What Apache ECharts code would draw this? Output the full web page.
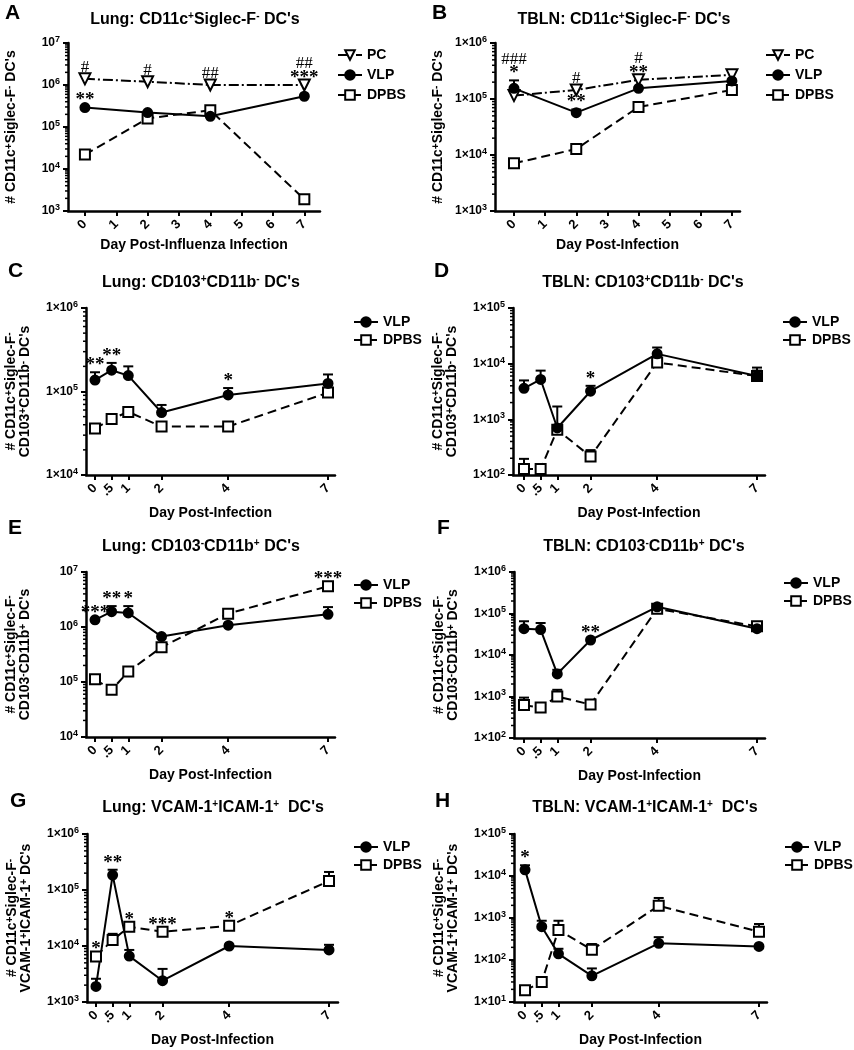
<!DOCTYPE html>
<html>
<head>
<meta charset="utf-8">
<script src="https://cdn.jsdelivr.net/npm/echarts@6.0.0/dist/echarts.min.js"></script>
<style>
html,body{margin:0;padding:0;background:#ffffff;}
#chart{width:854px;height:1050px;}
</style>
</head>
<body>
<div id="chart"></div>
<script>
// ================= DATA =================
const DAYS_AB = [0, 2, 4, 7];
const DAYS_CH = [0, 0.5, 1, 2, 4, 7];
const X_TICKS_AB = [0, 1, 2, 3, 4, 5, 6, 7];
const X_TICK_LABELS_AB = ['0', '1', '2', '3', '4', '5', '6', '7'];
const X_TICKS_CH = [0, 0.5, 1, 2, 4, 7];
const X_TICK_LABELS_CH = ['0', '.5', '1', '2', '4', '7'];
const MINOR_MULTIPLIERS = [2, 3, 4, 5, 6, 7, 8, 9];

// Panel A  (Lung CD11c+Siglec-F-)
const A_PC      = [1.4e6, 1.2e6, 1.0e6, 1.0e6];
const A_VLP     = [2.9e5, 2.2e5, 1.8e5, 5.4e5];
const A_DPBS    = [2.2e4, 1.6e5, 2.5e5, 1.9e3];
const A_SIG     = [[0, 'PC', '#'], [0, 'VLP', '**'], [2, 'PC', '#'], [4, 'PC', '##'], [7, 'PC', '***'], [7, 'PC', '##']];

// Panel B  (TBLN CD11c+Siglec-F-)
const B_PC      = [1.15e5, 1.45e5, 2.2e5, 2.7e5];
const B_VLP     = [1.55e5, 5.7e4, 1.55e5, 2.1e5];
const B_VLP_UP  = [2.15e5, 6.5e4, null, null];
const B_DPBS    = [7.1e3, 1.28e4, 7.2e4, 1.45e5];
const B_SIG     = [[0, 'VLP', '*'], [0, 'VLP', '###'], [2, 'PC', '#'], [2, 'VLP', '**'], [4, 'PC', '**'], [4, 'PC', '#']];

// Panel C  (Lung CD103+CD11b-)
const C_VLP     = [1.37e5, 1.8e5, 1.55e5, 5.6e4, 9.1e4, 1.25e5];
const C_VLP_UP  = [1.7e5, 2.2e5, 2.0e5, 6.9e4, 1.1e5, 1.6e5];
const C_DPBS    = [3.6e4, 4.7e4, 5.7e4, 3.8e4, 3.8e4, 9.7e4];
const C_SIG     = [[0, 'VLP', '**'], [0.5, 'VLP', '**'], [4, 'VLP', '*']];

// Panel D  (TBLN CD103+CD11b-)
const D_VLP     = [3.6e3, 5.2e3, 700, 3.2e3, 1.5e4, 6.0e3];
const D_VLP_UP  = [5.0e3, 7.5e3, 1.7e3, 4.0e3, 1.95e4, 8.5e3];
const D_DPBS    = [128, 128, 650, 215, 1.05e4, 6.0e3];
const D_DPBS_UP = [195, 150, null, 280, 1.35e4, 7.5e3];
const D_SIG     = [[2, 'VLP', '*']];

// Panel E  (Lung CD103-CD11b+)
const E_VLP     = [1.35e6, 1.9e6, 1.8e6, 6.7e5, 1.08e6, 1.7e6];
const E_VLP_UP  = [null, 2.4e6, 2.4e6, null, null, 2.3e6];
const E_DPBS    = [1.12e5, 7.2e4, 1.55e5, 4.3e5, 1.75e6, 5.5e6];
const E_SIG     = [[0, 'VLP', '***'], [0.5, 'VLP', '**'], [1, 'VLP', '*'], [7, 'DPBS', '***']];

// Panel F  (TBLN CD103-CD11b+)
const F_VLP     = [4.3e4, 4.1e4, 3.5e3, 2.3e4, 1.45e5, 4.3e4];
const F_VLP_UP  = [6.5e4, 5.9e4, 4.4e3, null, null, null];
const F_DPBS    = [620, 540, 1.0e3, 640, 1.3e5, 4.9e4];
const F_DPBS_UP = [940, null, 1.45e3, null, null, null];
const F_SIG     = [[2, 'VLP', '**']];

// Panel G  (Lung VCAM-1+ICAM-1+)
const G_VLP     = [1.9e3, 1.85e5, 6.6e3, 2.4e3, 1.0e4, 8.5e3];
const G_VLP_UP  = [2.6e3, 2.3e5, 8.5e3, 3.9e3, null, 1.05e4];
const G_DPBS    = [6.5e3, 1.28e4, 2.2e4, 1.8e4, 2.3e4, 1.45e5];
const G_DPBS_UP = [null, 1.65e4, null, null, null, 2.1e5];
const G_SIG     = [[0, 'DPBS', '*'], [0.5, 'VLP', '**'], [1, 'DPBS', '*'], [2, 'DPBS', '***'], [4, 'DPBS', '*']];

// Panel H  (TBLN VCAM-1+ICAM-1+)
const H_VLP     = [1.4e4, 620, 140, 42, 250, 210];
const H_VLP_UP  = [1.8e4, 860, 185, 63, 350, null];
const H_DPBS    = [19, 30, 520, 175, 1.95e3, 470];
const H_DPBS_UP = [null, null, 860, 240, 3.0e3, 720];
const H_SIG     = [[0, 'VLP', '*']];

// Texts
const TITLES = [
  "Lung: CD11c{s|+}Siglec-F{s|-} DC's",
  "TBLN: CD11c{s|+}Siglec-F{s|-} DC's",
  "Lung: CD103{s|+}CD11b{s|-} DC's",
  "TBLN: CD103{s|+}CD11b{s|-} DC's",
  "Lung: CD103{s|-}CD11b{s|+} DC's",
  "TBLN: CD103{s|-}CD11b{s|+} DC's",
  "Lung: VCAM-1{s|+}ICAM-1{s|+}  DC's",
  "TBLN: VCAM-1{s|+}ICAM-1{s|+}  DC's"
];
const LETTERS = ['A', 'B', 'C', 'D', 'E', 'F', 'G', 'H'];
const YNAME_1 = "# CD11c{s|+}Siglec-F{s|-} DC's";
const YNAME_CD = "# CD11c{s|+}Siglec-F{s|-}\nCD103{s|+}CD11b{s|-} DC's";
const YNAME_EF = "# CD11c{s|+}Siglec-F{s|-}\nCD103{s|-}CD11b{s|+} DC's";
const YNAME_GH = "# CD11c{s|+}Siglec-F{s|-}\nVCAM-1{s|+}ICAM-1{s|+} DC's";
const XNAME_A = 'Day Post-Influenza Infection';
const XNAME = 'Day Post-Infection';

// ================= PANEL DEFINITIONS =================
const PANELS = [
  {days: DAYS_AB, xTicks: X_TICKS_AB, xLabels: X_TICK_LABELS_AB, yRange: [1e3, 1e7], yFmt: 'pow', yName: YNAME_1, xName: XNAME_A,
   groups: [['PC', A_PC, null], ['VLP', A_VLP, null], ['DPBS', A_DPBS, null]], sig: A_SIG},
  {days: DAYS_AB, xTicks: X_TICKS_AB, xLabels: X_TICK_LABELS_AB, yRange: [1e3, 1e6], yFmt: 'sci', yName: YNAME_1, xName: XNAME,
   groups: [['PC', B_PC, null], ['VLP', B_VLP, B_VLP_UP], ['DPBS', B_DPBS, null]], sig: B_SIG},
  {days: DAYS_CH, xTicks: X_TICKS_CH, xLabels: X_TICK_LABELS_CH, yRange: [1e4, 1e6], yFmt: 'sci', yName: YNAME_CD, xName: XNAME,
   groups: [['VLP', C_VLP, C_VLP_UP], ['DPBS', C_DPBS, null]], sig: C_SIG},
  {days: DAYS_CH, xTicks: X_TICKS_CH, xLabels: X_TICK_LABELS_CH, yRange: [1e2, 1e5], yFmt: 'sci', yName: YNAME_CD, xName: XNAME,
   groups: [['VLP', D_VLP, D_VLP_UP], ['DPBS', D_DPBS, D_DPBS_UP]], sig: D_SIG},
  {days: DAYS_CH, xTicks: X_TICKS_CH, xLabels: X_TICK_LABELS_CH, yRange: [1e4, 1e7], yFmt: 'pow', yName: YNAME_EF, xName: XNAME,
   groups: [['VLP', E_VLP, E_VLP_UP], ['DPBS', E_DPBS, null]], sig: E_SIG},
  {days: DAYS_CH, xTicks: X_TICKS_CH, xLabels: X_TICK_LABELS_CH, yRange: [1e2, 1e6], yFmt: 'sci', yName: YNAME_EF, xName: XNAME,
   groups: [['VLP', F_VLP, F_VLP_UP], ['DPBS', F_DPBS, F_DPBS_UP]], sig: F_SIG},
  {days: DAYS_CH, xTicks: X_TICKS_CH, xLabels: X_TICK_LABELS_CH, yRange: [1e3, 1e6], yFmt: 'sci', yName: YNAME_GH, xName: XNAME,
   groups: [['VLP', G_VLP, G_VLP_UP], ['DPBS', G_DPBS, G_DPBS_UP]], sig: G_SIG},
  {days: DAYS_CH, xTicks: X_TICKS_CH, xLabels: X_TICK_LABELS_CH, yRange: [1e1, 1e5], yFmt: 'sci', yName: YNAME_GH, xName: XNAME,
   groups: [['VLP', H_VLP, H_VLP_UP], ['DPBS', H_DPBS, H_DPBS_UP]], sig: H_SIG}
];

// ================= LAYOUT (pixels) =================
const LAYOUT = [
  {grid: [68, 43, 252, 168],  x: [-0.54, 7.5],  legend: [337, 47],  lg: 4, title: [195, 20],  letter: [5, 13],    yGap: 50, xGap: 27},
  {grid: [495, 43, 245, 168], x: [-0.61, 7.26], legend: [765, 47],  lg: 4, title: [624, 20],  letter: [432, 13],  yGap: 50, xGap: 27},
  {grid: [86, 308, 249, 167], x: [-0.27, 7.21], legend: [353, 314], lg: 2, title: [201, 283], letter: [8, 271],   yGap: 54, xGap: 31},
  {grid: [513, 308, 252, 167],x: [-0.33, 7.24], legend: [782, 314], lg: 2, title: [643, 283], letter: [434, 271], yGap: 54, xGap: 31},
  {grid: [86, 572, 249, 165], x: [-0.27, 7.21], legend: [353, 577], lg: 2, title: [201, 547], letter: [8, 528],   yGap: 54, xGap: 31},
  {grid: [514, 572, 251, 166],x: [-0.30, 7.24], legend: [783, 575], lg: 2, title: [644, 547], letter: [437, 528], yGap: 54, xGap: 31},
  {grid: [87, 834, 251, 168], x: [-0.27, 7.27], legend: [353, 839], lg: 2, title: [213, 808], letter: [10, 801],  yGap: 54, xGap: 31},
  {grid: [514, 834, 253, 168],x: [-0.33, 7.24], legend: [784, 839], lg: 2, title: [645, 808], letter: [435, 801], yGap: 54, xGap: 31}
];

const FONT = '"Liberation Sans", Arial, Helvetica, sans-serif';
const SERIF = '"Liberation Serif", "Times New Roman", serif';
const BLACK = '#000000';

const STYLE = {
  PC:   {symbol: 'triangle', rotate: 180, size: 11, dash: [10, 3, 2, 3], fill: '#ffffff'},
  VLP:  {symbol: 'circle',   rotate: 0,   size: 9,  dash: 'solid',       fill: BLACK},
  DPBS: {symbol: 'rect',     rotate: 0,   size: 10, dash: [9, 5],        fill: '#ffffff'}
};

function supRich(fs) {
  return {s: {fontSize: fs, fontWeight: 'bold', fontFamily: FONT, color: BLACK, verticalAlign: 'top', lineHeight: fs}};
}

function yLabelFormatter(fmt) {
  return function (v) {
    const e = Math.round(Math.log10(v));
    return fmt === 'pow' ? '{b|10}{s|' + e + '}' : '{b|1\u00d710}{s|' + e + '}';
  };
}

const chart = echarts.init(document.getElementById('chart'), null, {renderer: 'canvas', width: 854, height: 1050});

const grids = [], xAxes = [], yAxes = [], series = [], legends = [], graphics = [];

PANELS.forEach(function (p, i) {
  const L = LAYOUT[i];
  grids.push({left: L.grid[0], top: L.grid[1], width: L.grid[2], height: L.grid[3], containLabel: false, outerBoundsMode: 'none'});

  xAxes.push({
    gridIndex: i, type: 'value', min: L.x[0], max: L.x[1],
    name: p.xName, nameLocation: 'middle', nameGap: L.xGap, nameMoveOverlap: false,
    nameTextStyle: {fontFamily: FONT, fontWeight: 'bold', fontSize: 14, color: BLACK},
    axisLine: {show: true, onZero: false, lineStyle: {color: BLACK, width: 2.5}},
    axisTick: {show: true, customValues: p.xTicks, length: 5, inside: false, lineStyle: {color: BLACK, width: 2}},
    axisLabel: {
      show: true, customValues: p.xTicks, rotate: 45, margin: 11,
      fontFamily: FONT, fontWeight: 'bold', fontSize: 13, color: BLACK,
      formatter: function (v) { const k = p.xTicks.indexOf(v); return k >= 0 ? p.xLabels[k] : ''; }
    },
    splitLine: {show: false}
  });

  yAxes.push({
    gridIndex: i, type: 'log', logBase: 10, min: p.yRange[0], max: p.yRange[1],
    name: p.yName, nameLocation: 'middle', nameRotate: 90, nameGap: L.yGap, nameMoveOverlap: false,
    nameTextStyle: {fontFamily: FONT, fontWeight: 'bold', fontSize: 14, color: BLACK, lineHeight: 14, rich: supRich(10)},
    axisLine: {show: true, onZero: false, lineStyle: {color: BLACK, width: 2.5}},
    axisTick: {show: true, length: 5, lineStyle: {color: BLACK, width: 2}},
    axisLabel: {
      show: true, margin: 8, formatter: yLabelFormatter(p.yFmt),
      rich: {
        b: {fontFamily: FONT, fontWeight: 'bold', fontSize: 12, color: BLACK, lineHeight: 16},
        s: {fontFamily: FONT, fontWeight: 'bold', fontSize: 9, color: BLACK, lineHeight: 9, verticalAlign: 'top'}
      }
    },
    splitLine: {show: false}, minorTick: {show: false}
  });

  // minor log ticks (axis decoration, drawn through the axis scale)
  const minorData = [];
  const e0 = Math.round(Math.log10(p.yRange[0])), e1 = Math.round(Math.log10(p.yRange[1]));
  for (let e = e0; e < e1; e++) {
    MINOR_MULTIPLIERS.forEach(function (m) { minorData.push([L.x[0], m * Math.pow(10, e)]); });
  }
  series.push({
    type: 'custom', xAxisIndex: i, yAxisIndex: i, silent: true, z: 1, clip: false,
    data: minorData,
    renderItem: function (params, api) {
      const pt = api.coord([api.value(0), api.value(1)]);
      return {type: 'line', shape: {x1: pt[0], y1: pt[1], x2: pt[0] - 3, y2: pt[1]}, style: {stroke: BLACK, lineWidth: 1.5}};
    }
  });

  // error bars
  p.groups.forEach(function (g) {
    const up = g[2];
    if (!up) return;
    const d = [];
    p.days.forEach(function (day, j) { if (up[j] != null) d.push([day, g[1][j], up[j]]); });
    series.push({
      type: 'custom', xAxisIndex: i, yAxisIndex: i, silent: true, z: 2, clip: false,
      data: d,
      renderItem: function (params, api) {
        const p0 = api.coord([api.value(0), api.value(1)]);
        const p1 = api.coord([api.value(0), api.value(2)]);
        return {type: 'group', children: [
          {type: 'line', shape: {x1: p0[0], y1: p0[1], x2: p1[0], y2: p1[1]}, style: {stroke: BLACK, lineWidth: 2}},
          {type: 'line', shape: {x1: p1[0] - 5, y1: p1[1], x2: p1[0] + 5, y2: p1[1]}, style: {stroke: BLACK, lineWidth: 2}}
        ]};
      }
    });
  });

  // lines
  const order = ['PC', 'DPBS', 'VLP'];
  order.forEach(function (nm) {
    const g = p.groups.find(function (gg) { return gg[0] === nm; });
    if (!g) return;
    const st = STYLE[nm];
    series.push({
      type: 'line', name: nm, xAxisIndex: i, yAxisIndex: i, silent: true, z: 3,
      data: p.days.map(function (d, j) { return [d, g[1][j]]; }),
      symbol: st.symbol, symbolSize: st.size, symbolRotate: st.rotate, showSymbol: true, showAllSymbol: true,
      lineStyle: {color: BLACK, width: 2, type: st.dash},
      itemStyle: {color: st.fill, borderColor: BLACK, borderWidth: 2},
      emphasis: {disabled: true}
    });
  });

  // significance marks (stacked per day and group)
  const counts = {};
  const sigData = p.sig.map(function (s) {
    const g = p.groups.find(function (gg) { return gg[0] === s[1]; });
    const j = p.days.indexOf(s[0]);
    let anchor = g[1][j];
    if (g[2] && g[2][j] != null) anchor = Math.max(anchor, g[2][j]);
    const key = s[0] + '|' + s[1];
    const k = counts[key] || 0; counts[key] = k + 1;
    return [s[0], anchor, k];
  });
  series.push({
    type: 'custom', xAxisIndex: i, yAxisIndex: i, silent: true, z: 5, clip: false,
    data: sigData,
    renderItem: function (params, api) {
      const pt = api.coord([api.value(0), api.value(1)]);
      const k = api.value(2);
      const txt = p.sig[params.dataIndex][2];
      const isStar = txt.indexOf('*') >= 0;
      return {type: 'text', x: pt[0], y: pt[1] - 11 - k * 10 + (isStar ? 4 : 0),
        style: {text: txt, fill: BLACK, align: 'center', verticalAlign: 'middle',
          font: (isStar ? 'bold 19px ' : '17px ') + SERIF}};
    }
  });

  legends.push({
    orient: 'vertical', left: L.legend[0], top: L.legend[1], itemWidth: 24, itemHeight: 12, itemGap: L.lg,
    data: p.groups.map(function (g) { return g[0]; }).sort(function (a, b) { return ['PC', 'VLP', 'DPBS'].indexOf(a) - ['PC', 'VLP', 'DPBS'].indexOf(b); }),
    selectedMode: false, padding: 0,
    textStyle: {fontFamily: FONT, fontWeight: 'bold', fontSize: 14, color: BLACK, lineHeight: 16}
  });

  graphics.push({type: 'text', x: L.letter[0], y: L.letter[1], silent: true,
    style: {text: LETTERS[i], font: 'bold 21px ' + FONT, fill: BLACK, align: 'left', verticalAlign: 'middle'}});
  graphics.push({type: 'text', x: L.title[0], y: L.title[1], silent: true,
    style: {text: TITLES[i], font: 'bold 16px ' + FONT, fill: BLACK, align: 'center', verticalAlign: 'middle', lineHeight: 18,
      rich: supRich(10)}});
});

chart.setOption({
  animation: false,
  backgroundColor: '#ffffff',
  textStyle: {fontFamily: FONT},
  grid: grids, xAxis: xAxes, yAxis: yAxes, series: series, legend: legends, graphic: graphics
});
</script>
</body>
</html>
